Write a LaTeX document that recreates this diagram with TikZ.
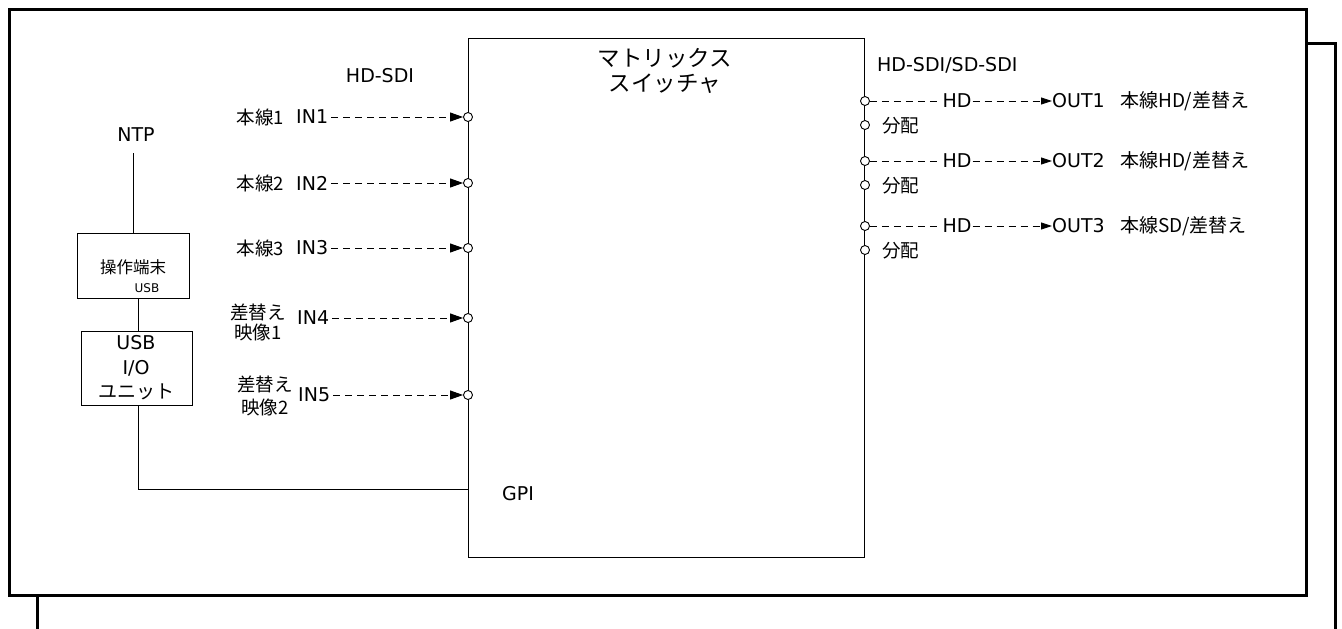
\documentclass[tikz,border=0pt]{standalone}
\usepackage{fontspec}
\setmainfont{DejaVu Sans}
\newfontfamily\jp{Noto Sans CJK JP}
\usetikzlibrary{arrows.meta}
\begin{document}
\begin{tikzpicture}[x=1pt,y=-1pt,
  txt/.style={inner sep=0pt, font=\fontsize{19}{22}\selectfont},
  port/.style={circle, draw, fill=white, inner sep=0pt, minimum size=9pt, line width=0.9pt},
  frame/.style={line width=3pt},
  thin/.style={line width=0.9pt},
  sig/.style={line width=0.9pt, dash pattern=on 7pt off 5pt, -{Triangle[length=13pt,width=9pt]}},
  sigout/.style={line width=0.9pt, dash pattern=on 7pt off 5pt, -{Triangle[length=11pt,width=7pt]}},
  sigplain/.style={line width=0.9pt, dash pattern=on 7pt off 5pt},
  box/.style={draw, line width=0.9pt, inner sep=0pt}]
\useasboundingbox (0,0) rectangle (1342,629);
% back frame
\coordinate (b1) at (1306,43);
\coordinate (b2) at (1335,43);
\coordinate (b3) at (1335,629);
\coordinate (b4) at (37,595);
\coordinate (b5) at (37,629);
\draw[frame] (b1) -- (b2) -- (b3);
\draw[frame] (b4) -- (b5);
% front frame
\draw[frame] (9,9) rectangle (1306,595);
% matrix switch
\node[box, minimum width=396pt, minimum height=519pt, anchor=north west] (mx) at (468,38) {};
\node[inner sep=0pt, align=center, font=\fontsize{22.5}{25}\selectfont\jp] (mxt) at (665,71) {マトリックス\\スイッチャ};
\node[txt] (hdsdi) at (380,76) {HD-SDI};
\node[txt, anchor=west] (hdsd) at (877,65) {HD-SDI/SD-SDI};
% inputs
\foreach \i/\y in {1/117,2/183,3/248,4/318,5/395}{
  \node[port] (p\i) at (468,\y) {};
}
\node[txt, anchor=west] (in1) at (296,117) {IN1};
\node[txt, anchor=west] (in2) at (296,183) {IN2};
\node[txt, anchor=west] (in3) at (296,248) {IN3};
\node[txt, anchor=west] (in4) at (297,318) {IN4};
\node[txt, anchor=west] (in5) at (298,395) {IN5};
\foreach \i in {1,...,5}{
  \draw[sig] (in\i.east) ++(3,0) -- (p\i.west);
}
\node[txt, anchor=east, font=\fontsize{18.5}{22}\selectfont\jp] (l1) at (284,117) {本線1};
\node[txt, anchor=east, font=\fontsize{18.5}{22}\selectfont\jp] (l2) at (284,183) {本線2};
\node[txt, anchor=east, font=\fontsize{18.5}{22}\selectfont\jp] (l3) at (284,248) {本線3};
\node[txt, align=center, font=\fontsize{18.5}{20}\selectfont\jp] (l4) at (258,322) {差替え\\映像1};
\node[txt, align=center, font=\fontsize{18.5}{23}\selectfont\jp] (l5) at (265,396) {差替え\\映像2};
% outputs
\foreach \i/\y in {1/101,2/161,3/226}{
  \node[port] (o\i) at (865,\y) {};
  \node[port] (d\i) at (865,\y+24) {};
  \node[txt, anchor=west, font=\fontsize{18.5}{22}\selectfont\jp] (dl\i) at (882,\y+25) {分配};
  \node[txt] (hd\i) at (957,\y) {HD};
  \node[txt, anchor=west] (out\i) at (1052,\y) {OUT\i};
  \draw[sigplain] (o\i.east) -- ([xshift=-2pt]hd\i.west);
  \draw[sigout] ([xshift=1pt]hd\i.east) -- (out\i.west);
}
\node[txt, anchor=west, font=\fontsize{19}{22}\selectfont] (t1) at (1120,101) {\jp{本線}HD/\jp{差替え}};
\node[txt, anchor=west, font=\fontsize{19}{22}\selectfont] (t2) at (1120,161) {\jp{本線}HD/\jp{差替え}};
\node[txt, anchor=west, font=\fontsize{19}{22}\selectfont] (t3) at (1120,226) {\jp{本線}SD/\jp{差替え}};
% left side
\node[txt] (ntp) at (136,135) {NTP};
\node[box, minimum width=112pt, minimum height=65pt, anchor=north west] (term) at (77,233) {};
\node[inner sep=0pt, font=\fontsize{16.5}{18}\selectfont\jp] (termt) at (133,267) {操作端末};
\node[inner sep=0pt, font=\fontsize{12}{14}\selectfont] (usb) at (147,288) {USB};
\node[box, minimum width=111pt, minimum height=74pt, anchor=north west] (usbio) at (81,331) {};
\node[inner sep=0pt, font=\fontsize{19}{24.5}\selectfont, align=center] (usbiot) at (136,368) {USB\\I/O\\\jp ユニット};
\coordinate (ntpb) at (133,153);
\draw[thin] (ntpb) -- (133,233);
\draw[thin] (138,298) -- (138,331);
\coordinate (gpic) at (138,489);
\draw[thin] (138,405) -- (gpic) -- (468,489);
\node[txt, anchor=west] (gpi) at (502,494) {GPI};
\end{tikzpicture}
\end{document}
